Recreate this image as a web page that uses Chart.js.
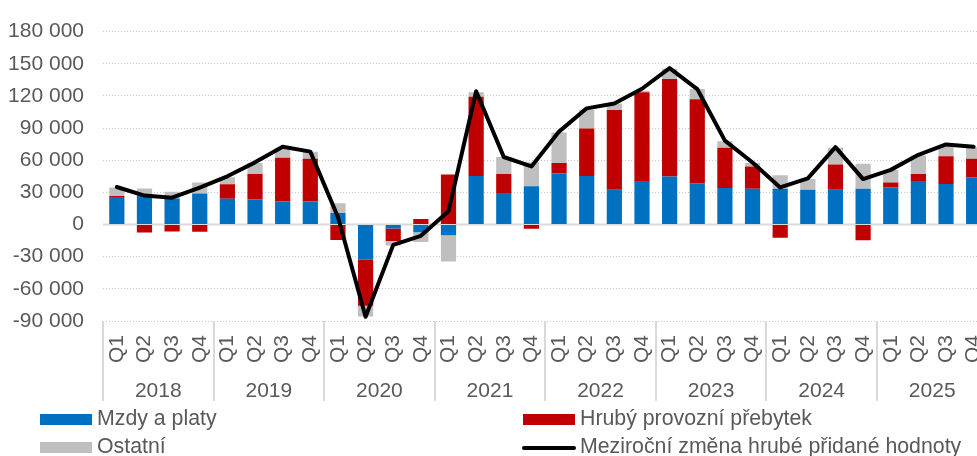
<!DOCTYPE html>
<html>
<head>
<meta charset="utf-8">
<script src="https://cdn.jsdelivr.net/npm/chart.js@4"></script>
<style>
  html, body { margin:0; padding:0; width:977px; height:456px; overflow:hidden; background:#fff; }
  #wrap { position:absolute; left:0; top:0; width:1013px; height:456px; }
  .lg { position:absolute; font-family:'Liberation Sans', Arial, sans-serif; font-size:21.3px; color:#595959; line-height:21px; white-space:nowrap; }
  .box { position:absolute; height:11px; width:52px; }
</style>
</head>
<body>
<div id="wrap"><canvas id="c" width="1013" height="456"></canvas></div>
<div class="box" style="left:40px;top:414px;background:#0070C0"></div>
<div class="lg" style="left:97px;top:408px">Mzdy a platy</div>
<div class="box" style="left:523px;top:414px;background:#C00000"></div>
<div class="lg" style="left:580px;top:408px">Hrubý provozní přebytek</div>
<div class="box" style="left:40px;top:442px;background:#BFBFBF"></div>
<div class="lg" style="left:97px;top:436px">Ostatní</div>
<div class="box" style="left:522px;top:446px;height:4px;width:54px;background:#000;border-radius:2px"></div>
<div class="lg" style="left:580px;top:436px">Meziroční změna hrubé přidané hodnoty</div>
<script>
const quarters = ['Q1','Q2','Q3','Q4','Q1','Q2','Q3','Q4','Q1','Q2','Q3','Q4','Q1','Q2','Q3','Q4',
                  'Q1','Q2','Q3','Q4','Q1','Q2','Q3','Q4','Q1','Q2','Q3','Q4','Q1','Q2','Q3','Q4'];
const years = ['2018','2019','2020','2021','2022','2023','2024','2025'];

const mzdy = [25600, 27100, 24400, 28900,  24100, 23500, 21400, 21400,
              10800, -32800, -3600, -7200,  -9900, 45200, 29500, 35800,
              47600, 45200, 32500, 40600,  44900, 38500, 34000, 33400,
              33400, 32500, 32500, 33400,  34900, 40600, 37900, 44000];
const prebytek = [1000, -7500, -6600, -6800,  13500, 23700, 40900, 40000,
                  -14400, -43000, -11800, 5100,  46700, 74000, 17700, -3900,
                  9900, 44500, 74300, 82800,  90800, 78300, 37600, 20800,
                  -12300, 0, 23500, -14700,  4200, 6600, 25900, 17400];
const ostatni = [8000, 6600, 6300, 10200,  6400, 10300, 9300, 6600,
                 9000, -10000, -4200, -9000,  -24700, 4200, 15700, 22200,
                 28300, 17500, 6100, 1500,  9700, 9600, 6100, 3300,
                 12600, 9900, 15600, 23200,  11700, 17200, 8700, 10800];
const zmena = [35000, 27000, 25000, 34500,  45000, 58000, 72500, 68000,
               7000, -86000, -19000, -10500,  12400, 124300, 63000, 54200,
               86700, 108400, 113000, 126700,  146000, 126400, 78300, 57900,
               34600, 43000, 72200, 42400,  51000, 65000, 74700, 72500];

const FONT = { family: "'Liberation Sans', Arial, sans-serif", size: 21 };
const TXT = '#595959';

const fmt = v => {
  const s = Math.abs(v).toString().replace(/\B(?=(\d{3})+(?!\d))/g, ' ');
  return (v < 0 ? '-' : '') + s;
};

const decor = {
  id: 'decor',
  beforeDatasetsDraw(chart) {
    const { ctx, chartArea, scales } = chart;
    const y0 = scales.y.getPixelForValue(0);
    ctx.save();
    ctx.strokeStyle = '#d9d9d9';
    ctx.lineWidth = 2;
    ctx.beginPath();
    ctx.moveTo(chartArea.left, y0);
    ctx.lineTo(chartArea.right, y0);
    ctx.stroke();
    ctx.restore();
  },
  afterDraw(chart) {
    const { ctx, chartArea, scales } = chart;
    const xs = scales.x;
    const n = quarters.length;
    const step = xs.getPixelForValue(1) - xs.getPixelForValue(0);
    ctx.save();
    ctx.strokeStyle = '#d9d9d9';
    ctx.lineWidth = 2;
    for (let i = 0; i <= n; i += 4) {
      const x = Math.round(xs.getPixelForValue(0) - step / 2 + i * step);
      ctx.beginPath();
      ctx.moveTo(x, chartArea.bottom);
      ctx.lineTo(x, chartArea.bottom + 80);
      ctx.stroke();
    }
    ctx.restore();
  }
};

new Chart(document.getElementById('c'), {
  data: {
    labels: quarters,
    datasets: [
      { type: 'line', label: 'Meziroční změna hrubé přidané hodnoty', data: zmena,
        borderColor: '#000', borderWidth: 4, pointRadius: 0, tension: 0, fill: false,
        stack: 'line', order: 0, borderJoinStyle: 'round', borderCapStyle: 'round' },
      { type: 'bar', label: 'Mzdy a platy', data: mzdy, backgroundColor: '#0070C0', stack: 'bars', order: 1 },
      { type: 'bar', label: 'Hrubý provozní přebytek', data: prebytek, backgroundColor: '#C00000', stack: 'bars', order: 1 },
      { type: 'bar', label: 'Ostatní', data: ostatni, backgroundColor: '#BFBFBF', stack: 'bars', order: 1 }
    ]
  },
  options: {
    responsive: false,
    animation: false,
    devicePixelRatio: 1,
    layout: { padding: { left: 0, top: 22, right: 9, bottom: 53 } },
    datasets: { bar: { categoryPercentage: 1, barPercentage: 0.55 } },
    plugins: { legend: { display: false }, tooltip: { enabled: false } },
    scales: {
      x: {
        type: 'category', stacked: true, position: 'bottom',
        grid: { display: false, drawTicks: false }, border: { display: false },
        ticks: { font: FONT, color: TXT, minRotation: 90, maxRotation: 90, autoSkip: false, padding: 14 },
        afterFit(s) { s.height = 46; }
      },
      yr: {
        type: 'category', labels: years, position: 'bottom', offset: true,
        grid: { display: false }, border: { display: false },
        ticks: { font: FONT, color: TXT, padding: 4 },
        afterFit(s) { s.height = 36; }
      },
      y: {
        stacked: true, min: -90000, max: 180000,
        grid: { color: '#c8c8c8', lineWidth: 1, drawTicks: false },
        border: { display: false, dash: [1, 2] },
        ticks: { stepSize: 30000, font: FONT, color: TXT, padding: 19, callback: v => fmt(v) },
        afterFit(s) { s.width = 103; }
      }
    }
  },
  plugins: [decor]
});
</script>
</body>
</html>
